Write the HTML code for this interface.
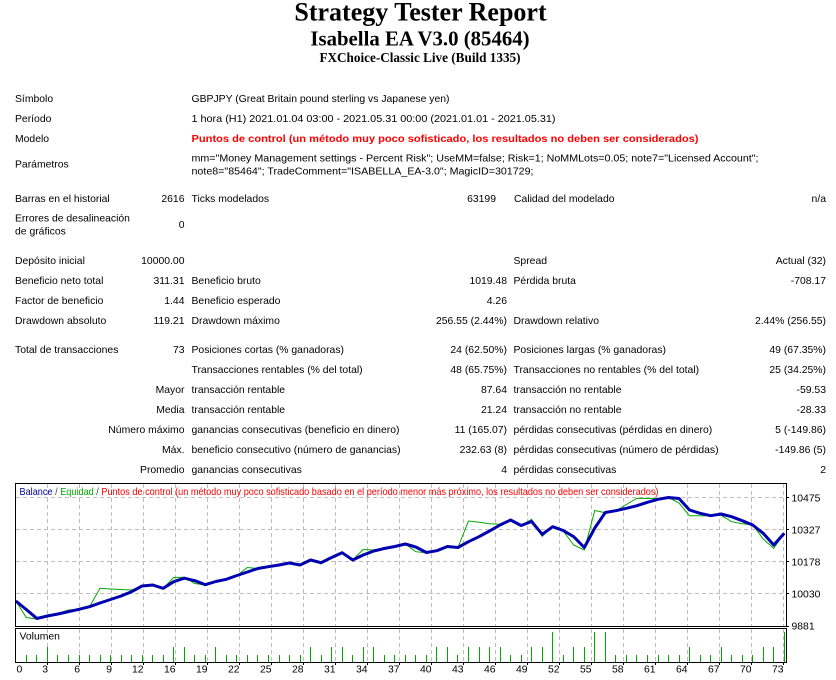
<!DOCTYPE html>
<html>
<head>
<meta charset="utf-8">
<style>
html,body{margin:0;padding:0;background:#fff;}
svg{display:block;}
text{font-family:"Liberation Sans",Arial,sans-serif;font-size:10.4px;fill:#000;}
.t{font-family:"Liberation Serif","Times New Roman",serif;font-weight:bold;}
.e{text-anchor:end;}
.m{text-anchor:middle;}
</style>
</head>
<body>
<svg width="836" height="680" viewBox="0 0 836 680" xmlns="http://www.w3.org/2000/svg">
<rect x="0" y="0" width="836" height="680" fill="#fff"/>

<!-- Header -->
<text class="t m" x="420.5" y="20.5" style="font-size:26px">Strategy Tester Report</text>
<text class="t m" x="420" y="45.3" style="font-size:20.8px">Isabella EA V3.0 (85464)</text>
<text class="t m" x="420" y="62" style="font-size:13.2px">FXChoice-Classic Live (Build 1335)</text>

<!-- Table -->
<text x="15" y="102">Símbolo</text>
<text x="191.5" y="102" textLength="258" lengthAdjust="spacingAndGlyphs">GBPJPY (Great Britain pound sterling vs Japanese yen)</text>
<text x="15" y="122">Período</text>
<text x="191.5" y="122" textLength="364" lengthAdjust="spacingAndGlyphs">1 hora (H1) 2021.01.04 03:00 - 2021.05.31 00:00 (2021.01.01 - 2021.05.31)</text>
<text x="15" y="142">Modelo</text>
<text x="191.5" y="142" textLength="507" lengthAdjust="spacingAndGlyphs" style="fill:#ff0000;font-weight:bold">Puntos de control (un método muy poco sofisticado, los resultados no deben ser considerados)</text>
<text x="15" y="167.7">Parámetros</text>
<text x="191.5" y="161.7" textLength="567" lengthAdjust="spacingAndGlyphs">mm="Money Management settings - Percent Risk"; UseMM=false; Risk=1; NoMMLots=0.05; note7="Licensed Account";</text>
<text x="191.5" y="174.7" textLength="342" lengthAdjust="spacingAndGlyphs">note8="85464"; TradeComment="ISABELLA_EA-3.0"; MagicID=301729;</text>

<text x="15" y="202">Barras en el historial</text>
<text class="e" x="184.5" y="202">2616</text>
<text x="191.5" y="202">Ticks modelados</text>
<text class="e" x="496" y="202">63199</text>
<text x="514" y="202">Calidad del modelado</text>
<text class="e" x="826" y="202">n/a</text>

<text x="15" y="221.7">Errores de desalineación</text>
<text x="15" y="234.5">de gráficos</text>
<text class="e" x="184.5" y="228">0</text>

<text x="15" y="264">Depósito inicial</text>
<text class="e" x="184.5" y="264">10000.00</text>
<text x="513.5" y="264">Spread</text>
<text class="e" x="826" y="264">Actual (32)</text>

<text x="15" y="284">Beneficio neto total</text>
<text class="e" x="184.5" y="284">311.31</text>
<text x="191.5" y="284">Beneficio bruto</text>
<text class="e" x="507" y="284">1019.48</text>
<text x="513.5" y="284">Pérdida bruta</text>
<text class="e" x="826" y="284">-708.17</text>

<text x="15" y="304">Factor de beneficio</text>
<text class="e" x="184.5" y="304">1.44</text>
<text x="191.5" y="304">Beneficio esperado</text>
<text class="e" x="507" y="304">4.26</text>

<text x="15" y="324">Drawdown absoluto</text>
<text class="e" x="184.5" y="324">119.21</text>
<text x="191.5" y="324">Drawdown máximo</text>
<text class="e" x="507" y="324">256.55 (2.44%)</text>
<text x="513.5" y="324">Drawdown relativo</text>
<text class="e" x="826" y="324">2.44% (256.55)</text>

<text x="15" y="353">Total de transacciones</text>
<text class="e" x="184.5" y="353">73</text>
<text x="191.5" y="353">Posiciones cortas (% ganadoras)</text>
<text class="e" x="507" y="353">24 (62.50%)</text>
<text x="513.5" y="353">Posiciones largas (% ganadoras)</text>
<text class="e" x="826" y="353">49 (67.35%)</text>

<text x="191.5" y="373">Transacciones rentables (% del total)</text>
<text class="e" x="507" y="373">48 (65.75%)</text>
<text x="513.5" y="373">Transacciones no rentables (% del total)</text>
<text class="e" x="826" y="373">25 (34.25%)</text>

<text class="e" x="184.5" y="393">Mayor</text>
<text x="191.5" y="393">transacción rentable</text>
<text class="e" x="507" y="393">87.64</text>
<text x="513.5" y="393">transacción no rentable</text>
<text class="e" x="826" y="393">-59.53</text>

<text class="e" x="184.5" y="413">Media</text>
<text x="191.5" y="413">transacción rentable</text>
<text class="e" x="507" y="413">21.24</text>
<text x="513.5" y="413">transacción no rentable</text>
<text class="e" x="826" y="413">-28.33</text>

<text class="e" x="184.5" y="433">Número máximo</text>
<text x="191.5" y="433">ganancias consecutivas (beneficio en dinero)</text>
<text class="e" x="507" y="433">11 (165.07)</text>
<text x="513.5" y="433">pérdidas consecutivas (pérdidas en dinero)</text>
<text class="e" x="826" y="433">5 (-149.86)</text>

<text class="e" x="184.5" y="453">Máx.</text>
<text x="191.5" y="453">beneficio consecutivo (número de ganancias)</text>
<text class="e" x="507" y="453">232.63 (8)</text>
<text x="513.5" y="453">pérdidas consecutivas (número de pérdidas)</text>
<text class="e" x="826" y="453">-149.86 (5)</text>

<text class="e" x="184.5" y="473">Promedio</text>
<text x="191.5" y="473">ganancias consecutivas</text>
<text class="e" x="507" y="473">4</text>
<text x="513.5" y="473">pérdidas consecutivas</text>
<text class="e" x="826" y="473">2</text>

<!-- Chart grid -->
<g stroke="#bdbdbd" stroke-width="1" stroke-dasharray="4,3" fill="none">
<path d="M16 497.5H786M16 529.5H786M16 561.5H786M16 593.5H786"/>
<path d="M47.5 484V626M79.5 484V626M111.5 484V626M143.5 484V626M175.5 484V626M207.5 484V626M239.5 484V626M271.5 484V626M303.5 484V626M335.5 484V626M367.5 484V626M399.5 484V626M431.5 484V626M463.5 484V626M495.5 484V626M527.5 484V626M559.5 484V626M591.5 484V626M623.5 484V626M655.5 484V626M687.5 484V626M719.5 484V626M751.5 484V626M783.5 484V626"/>
<path d="M47.5 629V662M79.5 629V662M111.5 629V662M143.5 629V662M175.5 629V662M207.5 629V662M239.5 629V662M271.5 629V662M303.5 629V662M335.5 629V662M367.5 629V662M399.5 629V662M431.5 629V662M463.5 629V662M495.5 629V662M527.5 629V662M559.5 629V662M591.5 629V662M623.5 629V662M655.5 629V662M687.5 629V662M719.5 629V662M751.5 629V662M783.5 629V662"/>
</g>

<!-- Volume bars -->
<path stroke="#00a800" stroke-width="1" fill="none" d="M26.5 662V655M36.5 662V655M47.5 662V647M57.5 662V655M68.5 662V655M79.5 662V655M89.5 662V655M100.5 662V655M110.5 662V655M121.5 662V655M131.5 662V655M142.5 662V655M152.5 662V655M163.5 662V655M173.5 662V647M184.5 662V647M194.5 662V655M205.5 662V655M215.5 662V647M226.5 662V655M236.5 662V655M247.5 662V655M257.5 662V655M268.5 662V655M279.5 662V655M289.5 662V655M300.5 662V655M310.5 662V647M321.5 662V655M331.5 662V647M342.5 662V647M352.5 662V655M363.5 662V647M373.5 662V647M384.5 662V655M394.5 662V655M405.5 662V655M415.5 662V655M426.5 662V655M436.5 662V647M447.5 662V647M457.5 662V655M468.5 662V647M479.5 662V647M489.5 662V647M500.5 662V647M510.5 662V655M521.5 662V655M531.5 662V647M542.5 662V647M552.5 662V632M563.5 662V655M573.5 662V647M584.5 662V647M594.5 662V632M605.5 662V632M615.5 662V655M626.5 662V655M636.5 662V655M647.5 662V655M658.5 662V655M668.5 662V655M679.5 662V655M689.5 662V647M700.5 662V655M710.5 662V655M721.5 662V647M731.5 662V655M742.5 662V655M752.5 662V655M763.5 662V647M773.5 662V647M784.5 662V632"/>

<!-- Equity -->
<polyline fill="none" stroke="#00a800" stroke-width="1" stroke-linejoin="miter" points="15.8,601 26.3,617.5 36.9,619 47.4,616 57.9,613.5 68.4,610 79,609.3 89.5,606.7 100,588.3 110.5,589 121.1,589.5 131.6,590 142.1,586 152.7,585 163.2,588.3 173.7,577.5 184.2,577.3 194.8,583.5 205.3,585 215.8,581.5 226.3,579.3 236.9,575.5 247.4,567.5 257.9,568.5 268.4,566.7 279,565 289.5,563 300,565 310.6,560 321.1,564 331.6,557 342.1,552.7 352.7,560 363.2,549.5 373.7,550 384.2,548.5 394.8,546.5 405.3,544 415.8,551.7 426.4,552.7 436.9,550.7 447.4,546.5 457.9,547.5 468.5,521 479,522.3 489.5,523.7 500,524.3 510.6,520.5 521.1,525.5 531.6,519.3 542.2,536.3 552.7,526.7 563.2,531 573.7,545 584.3,550 594.8,510.5 605.3,512.7 615.8,511 626.4,504.5 636.9,498.3 647.4,498.5 658,498.5 668.5,497.5 679,503 689.5,515.8 700.1,515.8 710.6,515.8 721.1,515.3 731.6,521.7 742.2,523.8 752.7,524.8 763.2,539 773.7,548.3 784.3,533.3"/>

<!-- Balance -->
<polyline fill="none" stroke="#0000b0" stroke-width="3" stroke-linejoin="round" points="15.8,601 26.3,609.5 36.9,618.5 47.4,616 57.9,614 68.4,611.7 79,609.3 89.5,606.7 100,603 110.5,599.5 121.1,596 131.6,591.7 142.1,586 152.7,585 163.2,588.3 173.7,581.7 184.2,578.2 194.8,580.7 205.3,584.7 215.8,581.5 226.3,579.3 236.9,575.5 247.4,572 257.9,568.5 268.4,566.7 279,565 289.5,563 300,565 310.6,560 321.1,562.7 331.6,557.5 342.1,552.7 352.7,560 363.2,555 373.7,551 384.2,548.5 394.8,546.5 405.3,544 415.8,547 426.4,552.5 436.9,550.7 447.4,546.5 457.9,547.5 468.5,541.7 479,536.7 489.5,531 500,525 510.6,520 521.1,525.5 531.6,521.5 542.2,534.3 552.7,526.7 563.2,530.5 573.7,536.7 584.3,547.5 594.8,528 605.3,512.5 615.8,510.7 626.4,508.3 636.9,505.7 647.4,502.3 658,499.3 668.5,497.5 679,498.5 689.5,510 700.1,513.3 710.6,515.7 721.1,514 731.6,516.7 742.2,520.7 752.7,525 763.2,533.3 773.7,545 784.3,533.3"/>

<!-- Frames -->
<g stroke="#000" stroke-width="1" fill="none">
<rect x="15.5" y="483.5" width="771" height="143"/>
<rect x="15.5" y="628.5" width="771" height="34"/>
<path d="M786 497.5H789M786 529.5H789M786 561.5H789M786 593.5H789M786 626.5H789"/>
<path d="M47.5 663V665M79.5 663V665M111.5 663V665M143.5 663V665M175.5 663V665M207.5 663V665M239.5 663V665M271.5 663V665M303.5 663V665M335.5 663V665M367.5 663V665M399.5 663V665M431.5 663V665M463.5 663V665M495.5 663V665M527.5 663V665M559.5 663V665M591.5 663V665M623.5 663V665M655.5 663V665M687.5 663V665M719.5 663V665M751.5 663V665M783.5 663V665"/>
</g>

<!-- Legend -->
<text x="19.5" y="495" textLength="639" lengthAdjust="spacingAndGlyphs"><tspan style="fill:#0000a0">Balance</tspan><tspan style="fill:#404040"> / </tspan><tspan style="fill:#00b000">Equidad</tspan><tspan style="fill:#404040"> / </tspan><tspan style="fill:#ff0000">Puntos de control (un método muy poco sofisticado basado en el período menor más próximo, los resultados no deben ser considerados)</tspan></text>

<text x="19.5" y="639.5">Volumen</text>

<!-- Y axis labels -->
<text x="791.5" y="501.7">10475</text>
<text x="791.5" y="533.5">10327</text>
<text x="791.5" y="565.5">10178</text>
<text x="791.5" y="597.5">10030</text>
<text x="791.5" y="629.5">9881</text>

<!-- X axis labels -->
<text x="16.5" y="672.7">0</text>
<g class="e">
<text class="e" x="48" y="672.7">3</text>
<text class="e" x="80" y="672.7">6</text>
<text class="e" x="112" y="672.7">9</text>
<text class="e" x="143.5" y="672.7">12</text>
<text class="e" x="175.5" y="672.7">16</text>
<text class="e" x="207.5" y="672.7">19</text>
<text class="e" x="239.5" y="672.7">22</text>
<text class="e" x="271.5" y="672.7">25</text>
<text class="e" x="303.5" y="672.7">28</text>
<text class="e" x="335.5" y="672.7">31</text>
<text class="e" x="367.5" y="672.7">34</text>
<text class="e" x="399.5" y="672.7">37</text>
<text class="e" x="431.5" y="672.7">40</text>
<text class="e" x="463.5" y="672.7">43</text>
<text class="e" x="495.5" y="672.7">46</text>
<text class="e" x="527.5" y="672.7">49</text>
<text class="e" x="559.5" y="672.7">52</text>
<text class="e" x="591.5" y="672.7">55</text>
<text class="e" x="623.5" y="672.7">58</text>
<text class="e" x="655.5" y="672.7">61</text>
<text class="e" x="687.5" y="672.7">64</text>
<text class="e" x="719.5" y="672.7">67</text>
<text class="e" x="751.5" y="672.7">70</text>
<text class="e" x="783.5" y="672.7">73</text>
</g>
</svg>
</body>
</html>
